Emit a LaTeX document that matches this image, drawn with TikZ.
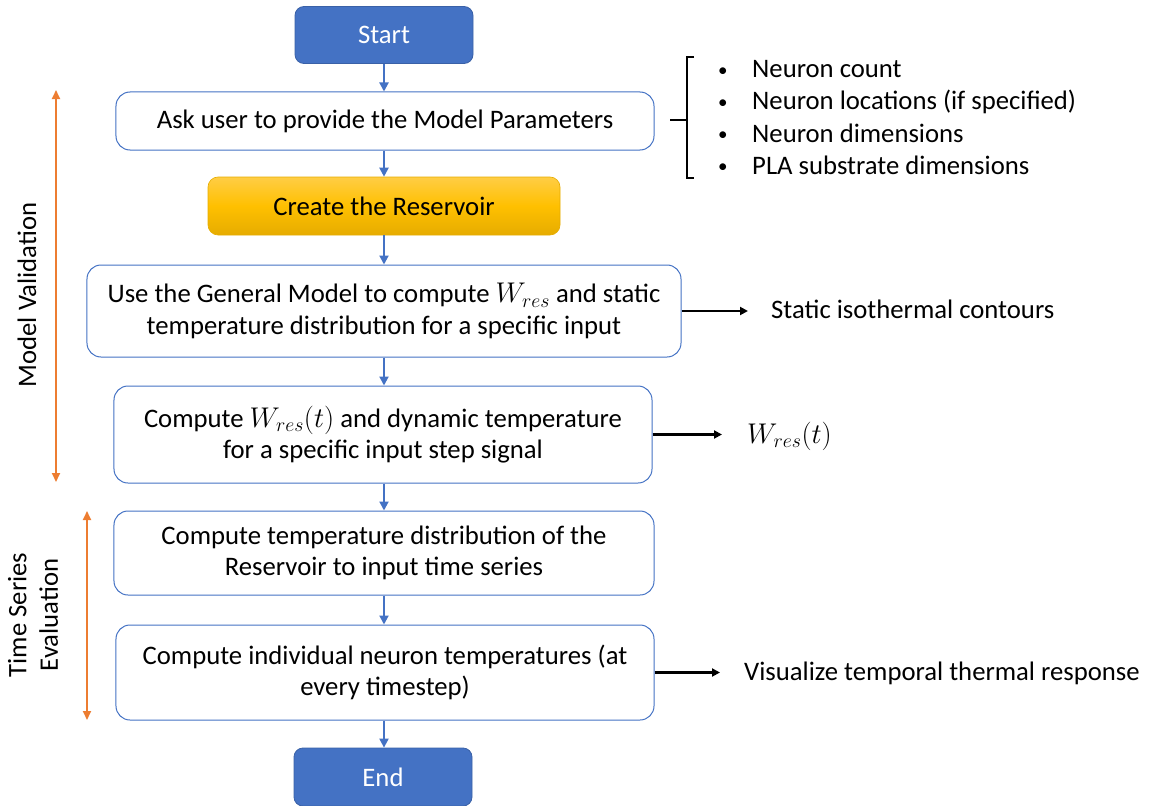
\documentclass[tikz,border=0pt]{standalone}
\usepackage{graphicx}
\usepackage{fontspec}
\setmainfont{Carlito}
\usetikzlibrary{arrows.meta}

\definecolor{flowblue}{HTML}{4472C4}
\definecolor{accent}{HTML}{ED7D31}
\definecolor{goldtop}{HTML}{FFCD45}
\definecolor{goldmid}{HTML}{FFC000}
\definecolor{goldbot}{HTML}{E6AC00}

% reservoir weight symbol, enlarged to sit with the text
\newcommand{\wressym}[1]{\scalebox{1.15}{$#1$}}
\newcommand{\itembullet}{\makebox[36bp][l]{\hspace{2bp}\fontsize{19bp}{19bp}\selectfont\raisebox{1.5bp}{•}}}

\tikzset{
  every node/.style={font=\fontsize{26.7bp}{31.5bp}\selectfont},
  term/.style={rectangle, rounded corners=9bp, fill=flowblue, draw=flowblue!85!black,
    line width=0.8bp, text=white, minimum width=178bp, minimum height=57bp},
  proc/.style={rectangle, rounded corners=14bp, draw=flowblue, line width=1bp,
    fill=white, align=center, inner sep=0pt},
  flow/.style={draw=flowblue, line width=2bp, -{Triangle[length=9bp,width=9bp]}},
  result/.style={draw=black, line width=2.2bp, -{Triangle[length=8bp,width=8bp]}},
  span/.style={draw=accent, line width=2bp,
    {Triangle[length=9bp,width=8bp]}-{Triangle[length=9bp,width=8bp]}},
  plain/.style={inner sep=0pt, anchor=west},
}

\begin{document}
\begin{tikzpicture}[x=1bp, y=-1bp]
\useasboundingbox (0,0) rectangle (1151,806);

% main flow
\node[term] (start) at (384,35) {Start};
\node[proc, minimum width=538bp, minimum height=58bp] (ask) at (385,121)
  {Ask user to provide the Model Parameters};
\node[rectangle, rounded corners=10bp, draw=goldbot, line width=0.6bp,
  top color=goldtop, bottom color=goldbot, middle color=goldmid,
  minimum width=352bp, minimum height=58bp] (create) at (384,206)
  {Create the Reservoir};
\node[proc, minimum width=594bp, minimum height=92bp] (use) at (384,311)
  {Use the General Model to compute \wressym{W_{res}} and static\\
   temperature distribution for a specific input};
\node[proc, minimum width=538bp, minimum height=97bp] (wres) at (383,434.5)
  {Compute \wressym{W_{res}(t)} and dynamic temperature\\
   for a specific input step signal};
\node[proc, minimum width=540bp, minimum height=84bp] (temp) at (384,553)
  {Compute temperature distribution of the\\
   Reservoir to input time series};
\node[proc, minimum width=538bp, minimum height=95bp] (indiv) at (385,672.5)
  {Compute individual neuron temperatures (at\\
   every timestep)};
\node[term, minimum height=58bp] (end) at (383,777) {End};

\draw[flow] (start.south) -- (ask.north -| start.south);
\draw[flow] (ask.south -| create.north) -- (create.north);
\draw[flow] (create.south) -- (use.north -| create.south);
\draw[flow] (use.south -| create.south) -- (wres.north -| create.south);
\draw[flow] (wres.south -| create.south) -- (temp.north -| create.south);
\draw[flow] (temp.south -| create.south) -- (indiv.north -| create.south);
\draw[flow] (indiv.south -| create.south) -- (end.north -| create.south);

% model parameters list with bracket
\node[plain, align=left, font=\fontsize{26.7bp}{32.3bp}\selectfont] (params) at (716,117.5)
  {\itembullet Neuron count\\
   \itembullet Neuron locations (if specified)\\
   \itembullet Neuron dimensions\\
   \itembullet PLA substrate dimensions};
\draw[line width=1.5bp] (694,57) -- (687,57) -- (687,178) -- (694,178);
\draw[line width=1.5bp] (670,120) -- (687,120);

% outputs
\node[plain] (contours) at (771,309) {Static isothermal contours};
\node[plain] (wout) at (747,436) {\wressym{W_{res}(t)}};
\node[plain] (visual) at (744,673) {Visualize temporal thermal response};
\coordinate (contoursIn) at (748,311);
\coordinate (woutIn) at (722,434.5);
\coordinate (visualIn) at (720,672.5);
\draw[result] (use.east) -- (contoursIn);
\draw[result] (wres.east) -- (woutIn);
\draw[result] (indiv.east) -- (visualIn);

% phase spans
\coordinate (mvTop) at (56,90);
\coordinate (mvBot) at (56,482);
\coordinate (tsTop) at (87,511);
\coordinate (tsBot) at (87,720);
\draw[span] (mvTop) -- (mvBot);
\draw[span] (tsTop) -- (tsBot);
\node[rotate=90] (mv) at (27,295) {Model Validation};
\node[rotate=90, align=center] (ts) at (33,615) {Time Series\\Evaluation};
\end{tikzpicture}
\end{document}
